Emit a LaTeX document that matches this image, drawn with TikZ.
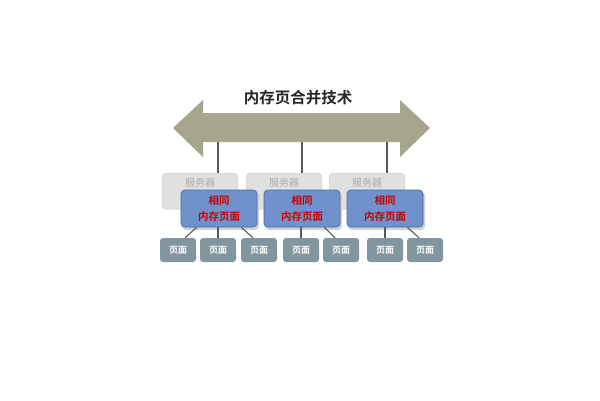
\documentclass[tikz,border=0pt]{standalone}
\usepackage{fontspec}
\newfontfamily\cjk{Noto Sans CJK SC}
\newfontfamily\cjkb{Noto Sans CJK SC Bold}
\begin{document}
\begin{tikzpicture}[x=1pt,y=-1pt]
\definecolor{arrowc}{RGB}{166,166,142}
\definecolor{bluebox}{RGB}{112,146,204}
\definecolor{blueline}{RGB}{75,105,165}
\definecolor{pagec}{RGB}{130,150,160}
\definecolor{redtxt}{RGB}{200,0,0}
\definecolor{srvfill}{RGB}{224,224,224}
\definecolor{srvline}{RGB}{200,200,200}
\tikzset{
  server/.style={draw=srvline,fill=srvfill,rounded corners=4pt,minimum width=76pt,minimum height=36pt,inner sep=0pt,text=black!33,font=\cjk\fontsize{10}{11}\selectfont,anchor=north,text depth=18pt},
  same/.style={draw=blueline,fill=bluebox,rounded corners=4pt,minimum width=76pt,minimum height=37pt,inner sep=0pt,line width=0.8pt,text=redtxt,font=\cjkb\fontsize{10.5}{15.5}\selectfont,align=center},
  page/.style={draw=none,fill=pagec,rounded corners=3pt,minimum width=36pt,minimum height=24pt,inner sep=0pt,text=white,font=\cjkb\fontsize{9}{10}\selectfont},
  link/.style={draw=black!65,line width=1.1pt}}
\useasboundingbox (0,0) rectangle (600,400);
% title
\node[font=\cjkb\fontsize{15.5}{18}\selectfont,text=black!85] (title) at (298,98) {内存页合并技术};
% arrow
\fill[arrowc] (173,128) -- (203,100) -- (203,113) -- (400,113) -- (400,100) -- (430,128) -- (400,157) -- (400,142) -- (203,142) -- (203,157) -- cycle;
\coordinate (a1) at (218,142);
\coordinate (a2) at (302,142);
\coordinate (a3) at (387,142);
% servers
\node[server] (s1) at (200,173) {服务器};
\node[server] (s2) at (284,173) {服务器};
\node[server] (s3) at (367,173) {服务器};
\draw[link] (a1) -- (a1 |- s1.north);
\draw[link] (a2) -- (a2 |- s2.north);
\draw[link] (a3) -- (a3 |- s3.north);
% pages
\node[page] (p1) at (178,250) {页面};
\node[page] (p2) at (218,250) {页面};
\node[page] (p3) at (259,250) {页面};
\node[page] (p4) at (301,250) {页面};
\node[page] (p5) at (341,250) {页面};
\node[page] (p6) at (385,250) {页面};
\node[page] (p7) at (425,250) {页面};
% shadows of same boxes
\foreach \x in {219,302,385}{
  \fill[black!18,rounded corners=4pt] (\x-37,192) rectangle (\x+40,230);
}
\node[same] (m1) at (219,208.5) {相同\\内存页面};
\node[same] (m2) at (302,208.5) {相同\\内存页面};
\node[same] (m3) at (385,208.5) {相同\\内存页面};
% connectors
\draw[link] (m1.south -| p2) -- (p2.north);
\draw[link] (m2.south -| p4) -- (p4.north);
\draw[link] (m3.south -| p6) -- (p6.north);
\draw[link] ([xshift=16pt]m1.south west) -- ([xshift=7pt]p1.north);
\draw[link] ([xshift=-16pt]m1.south east) -- ([xshift=-6pt]p3.north);
\draw[link] ([xshift=-16pt]m2.south east) -- ([xshift=-6pt]p5.north);
\draw[link] ([xshift=-16pt]m3.south east) -- ([xshift=-6pt]p7.north);
\end{tikzpicture}
\end{document}
